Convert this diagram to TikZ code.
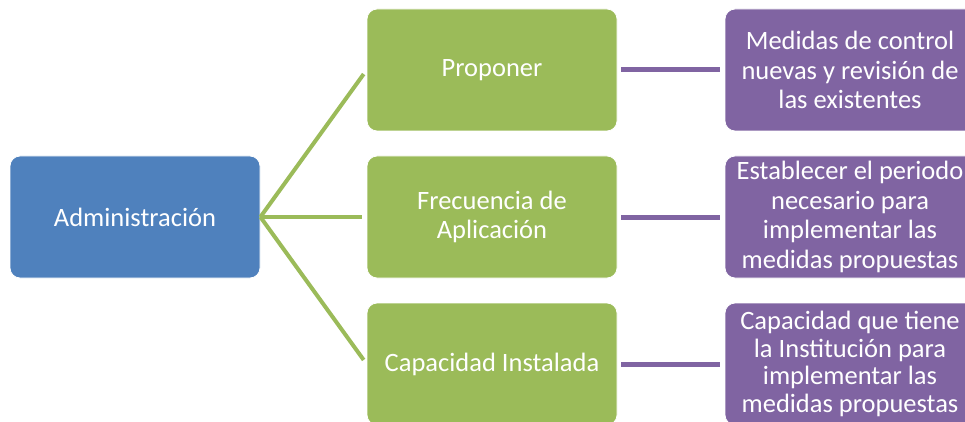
\documentclass[tikz,border=0pt]{standalone}
\usepackage{fontspec}
\setmainfont{Carlito}
\definecolor{cblue}{HTML}{4F81BD}
\definecolor{cgreen}{HTML}{9BBB59}
\definecolor{cpurple}{HTML}{8064A2}
\begin{document}
\begin{tikzpicture}[x=1pt,y=-1pt,
  box/.style={rounded corners=10pt, minimum width=250pt, minimum height=122pt,
    text=white, font=\fontsize{26.5}{29.5}\selectfont, align=center, inner sep=0pt,
    draw=white, line width=0.8pt},
  gline/.style={draw=cgreen, line width=4pt},
  pline/.style={draw=cpurple, line width=5pt}]
\useasboundingbox (0,0) rectangle (965,422);
\clip (0,0) rectangle (965,422);
\node[box, fill=cblue] (adm) at (135,217) {\raisebox{-2pt}{Administración}};
\node[box, fill=cgreen] (g1) at (492,70) {\raisebox{-2pt}{Proponer}};
\node[box, fill=cgreen] (g2) at (492,217) {Frecuencia de\\Aplicación};
\node[box, fill=cgreen] (g3) at (492,364) {Capacidad Instalada};
\node[box, fill=cpurple] (p1) at (850,70) {Medidas de control\\nuevas y revisión de\\las existentes};
\node[box, fill=cpurple] (p2) at (850,217) {Establecer el periodo\\necesario para\\implementar las\\medidas propuestas};
\node[box, fill=cpurple, font=\fontsize{26.5}{27.5}\selectfont] (p3) at (850,364) {Capacidad que tiene\\la Institución para\\implementar las\\medidas propuestas};
\draw[gline, shorten >=5pt] (adm.east) -- (g1.west);
\draw[gline, shorten >=5pt] (adm.east) -- (g2.west);
\draw[gline, shorten >=5pt] (adm.east) -- (g3.west);
\draw[pline, shorten <=4pt, shorten >=5pt] (g1.east) -- (p1.west);
\draw[pline, shorten <=4pt, shorten >=5pt] (g2.east) -- (p2.west);
\draw[pline, shorten <=4pt, shorten >=5pt] (g3.east) -- (p3.west);
\end{tikzpicture}
\end{document}
